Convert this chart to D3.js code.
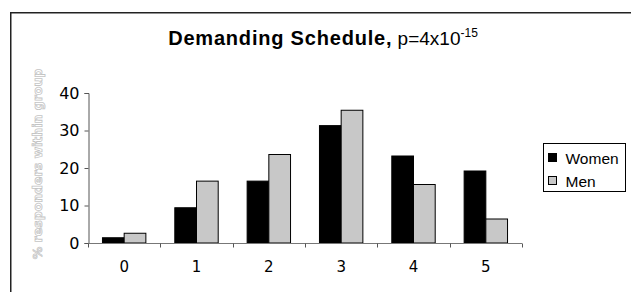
<!DOCTYPE html>
<html>
<head>
<meta charset="utf-8">
<script src="https://cdn.jsdelivr.net/npm/d3@7"></script>
<style>
  body { margin: 0; background: #fff; }
  svg { display: block; }
</style>
</head>
<body>
<svg id="chart" width="631" height="292"></svg>
<script>
// chart data
var categories = ["0", "1", "2", "3", "4", "5"];
var series = ["Women", "Men"];
var women = [1.4, 9.4, 16.5, 31.3, 23.2, 19.2];
var men = [2.6, 16.5, 23.6, 35.4, 15.6, 6.4];
var yTicks = [0, 10, 20, 30, 40];
var colors = ["#000000", "#c8c8c8"];

var svg = d3.select("#chart");

// outer frame (runs off the right and bottom edge)
svg.append("rect")
    .attr("x", 10.75).attr("y", 12.75)
    .attr("width", 700).attr("height", 400)
    .attr("fill", "none")
    .attr("stroke", "#222")
    .attr("stroke-width", 1.5);

var x = d3.scaleBand()
    .domain(categories)
    .range([88, 522])
    .paddingInner(0.4)
    .paddingOuter(0.2);

var xSub = d3.scaleBand()
    .domain(series)
    .range([0, x.bandwidth()]);

var y = d3.scaleLinear()
    .domain([0, 40])
    .range([243, 93]);

// title
var title = svg.append("text")
    .attr("x", 323).attr("y", 45)
    .attr("text-anchor", "middle")
    .style("font-family", "Liberation Sans, Arial, sans-serif")
    .style("font-size", "19px");
title.append("tspan")
    .style("font-weight", "bold")
    .style("font-size", "20px")
    .style("letter-spacing", "0.8px")
    .text("Demanding Schedule,");
title.append("tspan").text(" p=4x10");
title.append("tspan")
    .attr("dy", -8)
    .style("font-size", "12px")
    .text("-15");

// y axis title
svg.append("text")
    .attr("transform", "translate(42,164) rotate(-90)")
    .attr("text-anchor", "middle")
    .style("font-family", "DejaVu Sans, Verdana, sans-serif")
    .style("font-size", "12.5px")
    .style("font-weight", "bold")
    .attr("fill", "#fff")
    .attr("stroke", "#c4c4c4")
    .attr("stroke-width", 0.8)
    .text("% responders within group");

// bars
var groups = svg.append("g").selectAll("g")
    .data(categories)
    .enter().append("g")
      .attr("transform", function(d) { return "translate(" + x(d) + ",0)"; });

groups.selectAll("rect")
    .data(function(d, i) { return [women[i], men[i]]; })
    .enter().append("rect")
      .attr("x", function(d, j) { return xSub(series[j]); })
      .attr("y", function(d) { return y(d); })
      .attr("width", xSub.bandwidth())
      .attr("height", function(d) { return y(0) - y(d); })
      .attr("fill", function(d, j) { return colors[j]; })
      .attr("stroke", "#000")
      .attr("stroke-width", 1);

// y axis
var yAxis = svg.append("g")
    .attr("transform", "translate(88.5,0)")
    .call(d3.axisLeft(y).tickValues(yTicks).tickSize(4).tickPadding(5));
yAxis.select(".domain").attr("stroke", "#555");
yAxis.selectAll(".tick line").attr("stroke", "#555");
yAxis.selectAll("text")
    .attr("fill", "#000")
    .style("font-family", "DejaVu Sans, Verdana, sans-serif")
    .style("font-size", "16px");

// x axis with ticks between categories
var xAxis = svg.append("g")
    .attr("transform", "translate(0," + (y(0) + 0.5) + ")");
xAxis.append("line")
    .attr("x1", 88).attr("x2", 522)
    .attr("stroke", "#777");
xAxis.selectAll(".sep")
    .data(d3.range(categories.length + 1))
    .enter().append("line")
      .attr("class", "sep")
      .attr("x1", function(i) { return Math.round(88 + i * x.step()) + 0.5; })
      .attr("x2", function(i) { return Math.round(88 + i * x.step()) + 0.5; })
      .attr("y1", 0).attr("y2", 4)
      .attr("stroke", "#555");
xAxis.selectAll(".lbl")
    .data(categories)
    .enter().append("text")
      .attr("class", "lbl")
      .attr("x", function(d) { return x(d) + x.bandwidth() / 2; })
      .attr("y", 28)
      .attr("text-anchor", "middle")
      .style("font-family", "DejaVu Sans, Verdana, sans-serif")
      .style("font-size", "15px")
      .text(function(d) { return d; });

// legend
var legend = svg.append("g").attr("transform", "translate(543.5,143.5)");
legend.append("rect")
    .attr("width", 82).attr("height", 48)
    .attr("fill", "#fff")
    .attr("stroke", "#000");
var items = legend.selectAll(".item")
    .data(series)
    .enter().append("g")
      .attr("transform", function(d, i) { return "translate(0," + (i * 23) + ")"; });
items.append("rect")
    .attr("x", 5).attr("y", 10)
    .attr("width", 8).attr("height", 8)
    .attr("fill", function(d, i) { return colors[i]; })
    .attr("stroke", "#000");
items.append("text")
    .attr("x", 22).attr("y", 20)
    .style("font-family", "Liberation Sans, Arial, sans-serif")
    .style("font-size", "15.5px")
    .text(function(d) { return d; });
</script>
</body>
</html>
